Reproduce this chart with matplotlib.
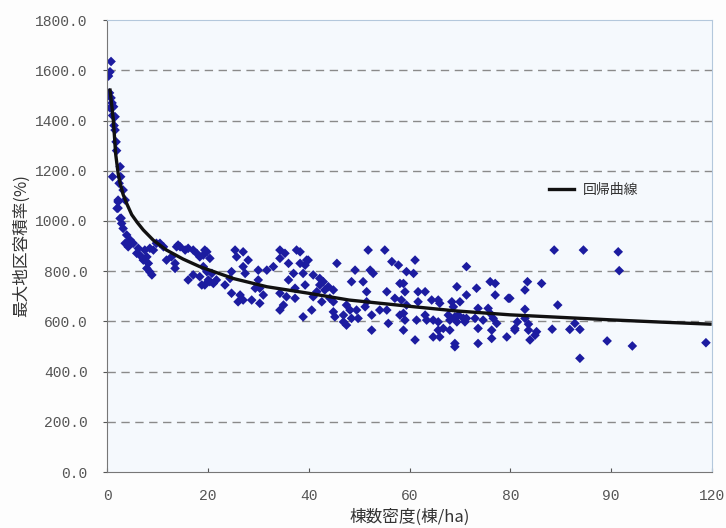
import numpy as np
import matplotlib
matplotlib.use('Agg')
import matplotlib.pyplot as plt

plt.rcParams['font.family'] = ['Noto Sans CJK JP', 'DejaVu Sans']

# 棟数密度(棟/ha) と 最大地区容積率(%) の実測値
density = [
    0.8, 0.6, 0.3, 0.5, 0.8, 1.0, 1.3, 0.6, 1.1, 1.6, 1.4, 1.6, 1.8, 1.9, 2.6, 2.7, 1.1, 2.4, 3.2, 3.6, 2.2, 2.2, 2.8,
    2.2, 2.0, 2.6, 2.9, 3.2, 3.9, 4.6, 3.6, 4.2, 5.2, 6.2, 5.9, 6.5, 7.5, 8.5, 9.2, 9.8, 10.5, 11.2,
    7.2, 7.9, 8.2, 7.9, 8.5, 8.9, 11.8, 12.8, 13.5, 13.5, 13.8, 14.5, 15.5, 16.1, 17.1, 17.8, 18.4, 19.1, 19.8,
    16.1, 17.1, 18.4, 18.8, 14.1, 20.4, 21.7,
    19.4, 20.4, 19.1, 19.8, 20.8, 20.1, 19.4, 21.1,
    25.4, 25.7, 27.0, 28.0, 27.0, 27.4, 24.7, 24.4, 23.4, 24.7, 26.4, 27.0, 26.0, 28.7, 29.4, 30.3, 30.0, 30.0,
    31.7, 33.0, 31.0, 30.3,
    34.3, 35.3, 37.6, 34.3, 36.0, 37.0, 38.3, 39.6, 36.0, 37.3, 34.3, 35.6, 37.3, 35.0, 34.3, 38.9,
    38.3, 39.3, 39.9, 38.9, 40.9, 42.2, 42.9, 43.9, 44.9, 42.2, 43.2, 39.3, 41.6, 40.9, 44.2, 42.6, 44.9, 40.6,
    45.6, 44.9, 45.2, 46.9, 47.5, 48.2, 46.9, 47.5, 48.5,
    49.2, 48.5, 50.8, 51.5, 51.8, 52.2, 52.8, 51.5, 51.2, 49.5, 49.8, 52.5, 52.5, 54.1, 55.1, 56.5, 57.8, 59.4,
    58.1, 58.8, 55.5, 57.1, 58.4, 59.4, 55.5, 58.1, 58.8, 59.1, 55.8, 58.8,
    61.1, 60.8, 59.1, 61.7, 63.1, 61.7, 64.4, 65.7, 66.0, 61.4, 63.1, 63.4, 64.7, 65.7, 61.1, 64.7, 66.0,
    65.7, 66.7, 68.0, 69.0, 69.0, 69.4, 68.4, 70.0, 68.7, 67.7, 69.0, 69.7, 70.7, 68.0, 69.4, 71.0,
    71.3, 71.3, 73.3, 73.6, 73.6, 73.6, 76.0, 77.0, 77.0, 75.6, 76.0, 76.6, 77.3, 76.3, 76.3, 79.3, 79.6,
    73.0, 74.6, 71.3,
    88.7, 94.5, 101.4, 101.6, 89.4, 86.2, 83.4, 82.9, 79.9, 82.9, 81.4, 83.6, 83.6, 85.2, 84.9, 83.9, 80.9,
    88.3, 91.8, 92.8, 93.8, 93.8, 99.2, 104.2, 118.8, 82.9, 80.9,
]
far = [
    1635, 1594, 1577, 1510, 1490, 1470, 1455, 1450, 1420, 1415, 1380, 1362, 1315, 1280, 1216, 1176, 1176, 1150,
    1123, 1083, 1083, 1051, 1011,
    1076, 1050, 1010, 990, 970, 944, 924, 911, 897, 911, 891, 871, 864, 884, 891, 884, 911, 911, 897,
    844, 857, 831, 811, 797, 785, 844, 857, 831, 811, 897, 897, 884, 891, 884, 871, 857, 864, 877,
    765, 785, 778, 745, 904, 758, 765,
    884, 851, 818, 798, 791, 765, 745, 751,
    884, 857, 877, 844, 818, 791, 798, 771, 745, 712, 705, 685, 678, 685, 732, 732, 765, 804,
    804, 818, 705, 672,
    884, 871, 884, 851, 831, 791, 831, 844, 765, 732, 712, 698, 692, 665, 645, 618,
    877, 824, 844, 791, 785, 771, 758, 738, 725, 745, 725, 745, 718, 698, 692, 678, 678, 645,
    831, 638, 618, 625, 665, 645, 598, 585, 612,
    804, 758, 758, 718, 884, 804, 791, 678, 658, 645, 612, 625, 565, 645, 884, 838, 824, 798,
    751, 751, 718, 692, 685, 665, 645, 625, 632, 605, 592, 565,
    844, 791, 718, 718, 718, 678, 685, 685, 672, 605, 625, 605, 605, 598, 526, 538, 538,
    565, 572, 565, 512, 499, 738, 678, 678, 658, 625, 618, 625, 612, 605, 598, 598,
    818, 705, 732, 652, 572, 512, 758, 751, 705, 652, 632, 612, 592, 565, 532, 538, 692,
    612, 605, 612,
    884, 884, 877, 802, 665, 751, 758, 725, 692, 648, 598, 589, 565, 559, 545, 526, 565,
    569, 568, 592, 568, 453, 522, 502, 515, 612, 572,
]

# 回帰曲線
curve_x = [0.6, 1.0, 1.25, 1.5, 1.7, 2.2, 2.6, 3.2, 4.0, 4.9, 6.0, 7.2, 9.2, 11.8, 15.1, 18.4, 25, 31.7,
           40, 48, 60, 69, 80, 90, 100, 110, 119.6]
curve_y = [1521, 1450, 1402, 1330, 1269, 1190, 1150, 1105, 1065, 1025, 994, 964, 923, 884, 848, 818, 771, 738,
           712, 685, 660, 642, 626, 616, 606, 597, 589]

xticks = [0, 20, 40, 60, 80, 100, 120]
xtick_labels = ['0', '20', '40', '60', '80', '90', '120']
yticks = np.arange(0, 1801, 200)

fig = plt.figure(figsize=(7.26, 5.28), dpi=100, facecolor='#fdfdfd')
ax = fig.add_axes([0.1474, 0.106, 0.8333, 0.856])
ax.set_facecolor('#f5f9fd')

for y in yticks[1:-1]:
    ax.axhline(y, color='#8a8a8a', lw=1.0, ls=(0, (6, 4)), zorder=1)

ax.scatter(density, far, marker='D', s=24, color='#1c1ca0', edgecolors='none', zorder=2)
ax.plot(curve_x, curve_y, color='#111111', lw=2.4, label='回帰曲線', zorder=3)

ax.set_xlim(0, 120)
ax.set_ylim(0, 1800)
ax.set_xticks(xticks)
ax.set_xticklabels(xtick_labels)
ax.set_yticks(yticks)
ax.set_yticklabels(['{:.1f}'.format(v) for v in yticks])
ax.tick_params(axis='both', labelsize=10.5, colors='#555555', length=3)
ax.tick_params(axis='x', direction='in', pad=12)
ax.tick_params(axis='y', direction='out', pad=11)
for lbl in ax.get_xticklabels() + ax.get_yticklabels():
    lbl.set_family(['Liberation Mono', 'DejaVu Sans Mono'])

for side in ['left', 'bottom']:
    ax.spines[side].set_color('#777777')
for side in ['right', 'top']:
    ax.spines[side].set_color('#b4c8dc')

ax.set_xlabel('棟数密度(棟/ha)', fontsize=12, color='#333333', labelpad=4)
ax.set_ylabel('最大地区容積率(%)', fontsize=12, color='#333333', labelpad=4)

ax.legend(loc='center left', bbox_to_anchor=(0.71, 0.624), frameon=False, fontsize=10,
          handlelength=1.8, handletextpad=0.6, labelcolor='#333333')

plt.savefig('out.png', dpi=100, facecolor=fig.get_facecolor())
